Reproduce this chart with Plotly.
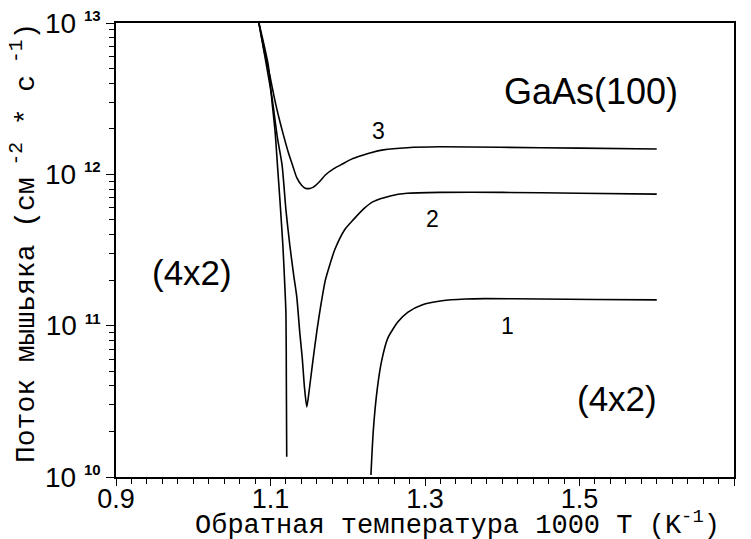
import plotly.graph_objects as go

# Curve 1 (two branches, flux drops to zero in between)
x1 = [1.085, 1.091, 1.097, 1.102, 1.106, 1.109, 1.112, 1.114, 1.116, 1.118, 1.120, 1.1205, 1.121,
      None,
      1.230, 1.233, 1.238, 1.244, 1.252, 1.265, 1.278, 1.296, 1.322, 1.352, 1.378, 1.45, 1.52, 1.60]
y1 = [1.0e13, 7.4e12, 5.3e12, 3.0e12, 1.9e12, 1.15e12, 7.0e11, 4.9e11, 3.4e11, 2.1e11, 1.2e11, 4.4e10, 1.36e10,
      None,
      1.03e10, 2.0e10, 3.75e10, 5.9e10, 8.3e10, 1.06e11, 1.23e11, 1.37e11, 1.46e11, 1.50e11, 1.51e11, 1.50e11, 1.49e11, 1.48e11]

# Curve 2
x2 = [1.085, 1.093, 1.102, 1.109, 1.115, 1.120, 1.125, 1.130, 1.134, 1.138, 1.141, 1.144, 1.147,
      1.150, 1.154, 1.160, 1.165, 1.171, 1.177, 1.183, 1.196, 1.207, 1.222, 1.233, 1.255, 1.277, 1.319,
      1.40, 1.50, 1.60]
y2 = [1.0e13, 5.9e12, 3.2e12, 1.74e12, 1.15e12, 5.8e11, 3.4e11, 2.16e11, 1.55e11, 8.9e10, 6.2e10, 3.9e10, 2.9e10,
      3.7e10, 5.4e10, 9.2e10, 1.35e11, 2.0e11, 2.55e11, 3.16e11, 4.3e11, 5.0e11, 6.0e11, 6.6e11, 7.2e11, 7.5e11, 7.6e11,
      7.6e11, 7.5e11, 7.4e11]

# Curve 3
x3 = [1.085, 1.092, 1.099, 1.105, 1.110, 1.116, 1.123, 1.129, 1.134, 1.140, 1.145, 1.150, 1.155,
      1.163, 1.171, 1.182, 1.193, 1.205, 1.216, 1.230, 1.246, 1.277, 1.319, 1.397, 1.50, 1.60]
y3 = [1.0e13, 6.5e12, 4.53e12, 3.2e12, 2.47e12, 1.88e12, 1.40e12, 1.13e12, 9.5e11, 8.5e11, 8.1e11, 8.05e11, 8.2e11,
      8.9e11, 9.9e11, 1.09e12, 1.17e12, 1.26e12, 1.32e12, 1.39e12, 1.45e12, 1.50e12, 1.52e12, 1.51e12, 1.49e12, 1.47e12]

x_ticks = [0.9, 1.1, 1.3, 1.5, 1.7]
x_ticktext = ["0.9", "1.1", "1.3", "1.5", "1.7"]
y_ticks = [1e10, 1e11, 1e12, 1e13]
y_exponents = ["10", "11", "12", "13"]
y_ticktext = ["10 <sup><b><span style='font-size:15px'>%s</span></b></sup>" % e for e in y_exponents]

curve_labels = ["1", "2", "3"]

fig = go.Figure()
for xs, ys, name in [(x1, y1, "1"), (x2, y2, "2"), (x3, y3, "3")]:
    fig.add_trace(go.Scatter(x=xs, y=ys, mode="lines", name=name,
                             line=dict(color="black", width=1.6, shape="spline", smoothing=0.6),
                             connectgaps=False, showlegend=False, hoverinfo="skip"))

# plot area in pixels: left 116, right 734, top 23, bottom 477
L, R, T, B = 116, 734, 23, 477
def px(x):
    return (x - L) / (R - L)
def py(y):
    return (B - y) / (B - T)

sans = "Liberation Sans, Arial, sans-serif"
mono = "Liberation Mono, Courier New, monospace"

anns = [
    dict(text="GaAs(100)", x=px(591), y=py(92), size=36, font=sans),
    dict(text="(4x2)", x=px(192), y=py(272), size=35, font=sans),
    dict(text="(4x2)", x=px(617), y=py(398), size=35, font=sans),
    dict(text=curve_labels[2], x=px(378), y=py(131), size=23, font=sans),
    dict(text=curve_labels[1], x=px(432), y=py(219), size=23, font=sans),
    dict(text=curve_labels[0], x=px(507), y=py(326), size=23, font=sans),
]
for a in anns:
    fig.add_annotation(text=a["text"], x=a["x"], y=a["y"], xref="paper", yref="paper",
                       showarrow=False, xanchor="center", yanchor="middle",
                       font=dict(family=a["font"], size=a["size"], color="black"))

fig.add_annotation(text="Обратная температура 1000 T (K<sup>-1</sup>)",
                   x=px(457), y=py(523), xref="paper", yref="paper", showarrow=False,
                   xanchor="center", yanchor="middle",
                   font=dict(family=mono, size=27, color="black"))
fig.add_annotation(text="Поток мышьяка (см<sup> -2</sup> * с<sup> -1</sup>)",
                   x=px(24), y=py(243), xref="paper", yref="paper", showarrow=False,
                   xanchor="center", yanchor="middle", textangle=-90,
                   font=dict(family=mono, size=28, color="black"))

fig.update_layout(
    width=751, height=539,
    margin=dict(l=L, r=751 - R, t=T, b=539 - B, autoexpand=False),
    paper_bgcolor="white", plot_bgcolor="white",
    font=dict(family=sans, color="black"),
    xaxis=dict(range=[0.9, 1.7], tickvals=x_ticks, ticktext=x_ticktext, automargin=False,
               ticks="outside", ticklen=7, tickwidth=1.3, tickcolor="black", ticklabelstandoff=-10,
               minor=dict(tick0=0.9, dtick=0.02, ticks="outside", ticklen=5, tickwidth=1, tickcolor="black"),
               showline=True, linecolor="black", linewidth=1.6, mirror=True,
               showgrid=False, zeroline=False,
               tickfont=dict(family=sans, size=27, color="black")),
    yaxis=dict(type="log", range=[10, 13], tickvals=y_ticks, ticktext=y_ticktext, automargin=False,
               ticks="outside", ticklen=8, tickwidth=1.3, tickcolor="black",
               minor=dict(dtick="D1", ticks="outside", ticklen=5, tickwidth=1, tickcolor="black"),
               showline=True, linecolor="black", linewidth=1.6, mirror=True,
               showgrid=False, zeroline=False,
               tickfont=dict(family=sans, size=28, color="black")),
)

fig.write_html("out.html", config={"displayModeBar": False},
               post_script="document.body.style.margin='0px';")
